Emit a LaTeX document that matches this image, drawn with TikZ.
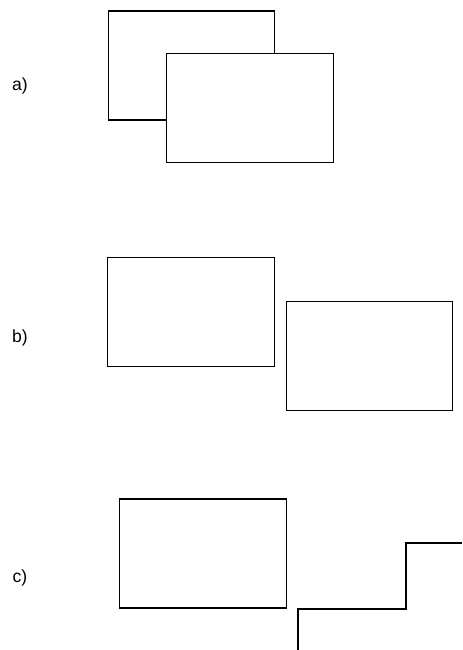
\documentclass[tikz,border=0pt]{standalone}
\usepackage{fontspec}
\setmainfont{Liberation Sans}
\tikzset{
    panel diagram/.style = {x=0.03cm, y=-0.03cm, line width=0.9pt},
    frame/.style         = {draw, fill=white, inner sep=0pt,
                            minimum width=4.995cm, minimum height=3.27cm},
    tag/.style           = {font=\fontsize{15}{17}\selectfont},
    step line/.style     = {line width=0.9pt, line cap=butt}
}
\begin{document}
\begin{tikzpicture}[panel diagram]
\useasboundingbox (0,0) rectangle (462,650);

% ================= a) overlapping frames =================
\node[tag] (taga) at (20,86) {a)};
\node[frame] (aback) at (191.5,65.5) {};
\node[frame] (afront) at (250,108) {};

% ================= b) separate frames =================
\node[tag] (tagb) at (20,338) {b)};
\node[frame] (bleft) at (191,312) {};
\node[frame] (bright) at (369.5,356) {};

% ================= c) frame and staircase =================
\node[tag] (tagc) at (20,578) {c)};
\node[frame] (cframe) at (203,553.5) {};
\coordinate (sbot) at (298,650);
\coordinate (stop) at (462,543);
\draw[step line] (sbot) |- (406,609) |- (stop);

\end{tikzpicture}
\end{document}
